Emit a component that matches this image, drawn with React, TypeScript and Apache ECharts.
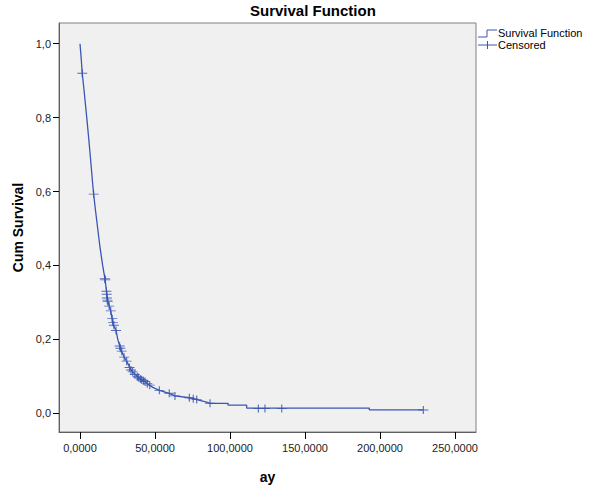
import React, { useEffect, useRef } from "react";
import * as echarts from "echarts";

const titleText = "Survival Function";
const xAxisName = "ay";
const yAxisName = "Cum Survival";
const legendNames = ["Survival Function", "Censored"];
const xTicks = [0, 50, 100, 150, 200, 250];
const yTicks = [0, 0.2, 0.4, 0.6, 0.8, 1.0];

// Kaplan-Meier curve (time, cumulative survival)
const survivalCurve: [number, number][] = [
  [0, 1.0], [0.8, 0.96], [1.5, 0.92], [2.8, 0.87], [4.5, 0.8], [5.9, 0.74],
  [7.2, 0.68], [8.9, 0.6], [10.3, 0.55], [11.8, 0.5], [13.3, 0.45], [15.1, 0.4],
  [16.7, 0.362], [17.8, 0.326], [18.5, 0.304], [20.5, 0.277], [22.0, 0.24],
  [24.0, 0.224], [25.2, 0.2], [26.7, 0.179], [27.8, 0.168], [29.4, 0.152],
  [31.1, 0.141], [34.0, 0.117], [35.1, 0.112], [38.9, 0.097], [41.1, 0.091],
  [43.3, 0.086], [44.9, 0.08], [48.5, 0.07], [52.9, 0.062], [59.5, 0.054],
  [63.3, 0.047], [72.9, 0.042], [77.8, 0.037], [84.5, 0.03], [86.7, 0.027],
  [98.7, 0.027], [98.7, 0.022], [111.1, 0.022], [111.1, 0.014], [192.9, 0.014],
  [192.9, 0.009], [228.9, 0.009],
];

// Censored observations
const censored: [number, number][] = [
  [1.5, 0.92], [9.1, 0.593], [16.5, 0.364], [16.9, 0.361], [17.6, 0.33],
  [17.8, 0.322], [17.9, 0.312], [18.2, 0.306], [18.5, 0.302], [19.4, 0.29],
  [20.5, 0.277], [21.5, 0.256], [22.0, 0.246], [22.6, 0.238], [24.0, 0.224],
  [26.4, 0.182], [26.9, 0.176], [27.8, 0.168], [29.4, 0.152], [31.1, 0.141],
  [33.0, 0.124], [34.0, 0.117], [35.1, 0.112], [36.5, 0.105], [38.2, 0.099],
  [38.9, 0.097], [40.2, 0.093], [41.1, 0.091], [42.3, 0.088], [43.3, 0.086],
  [44.9, 0.08], [46.5, 0.076], [52.9, 0.062], [59.5, 0.054], [63.3, 0.047],
  [72.9, 0.042], [75.5, 0.039], [77.8, 0.037], [86.7, 0.027], [118.9, 0.013],
  [123.3, 0.013], [134.5, 0.013], [228.9, 0.009],
];

const BLUE = "#3a55b4";
const FONT = "'Liberation Sans', Arial, sans-serif";

export default function App() {
  const ref = useRef<HTMLDivElement>(null);
  useEffect(() => {
    document.body.style.margin = "0";
    if (!ref.current) return;
    const chart = echarts.init(ref.current, undefined, { renderer: "svg" });
    const option: any = {
      animation: false,
      backgroundColor: "#ffffff",
      textStyle: { fontFamily: FONT },
      title: {
        text: titleText,
        left: 250,
        top: 3,
        padding: 0,
        textStyle: { fontFamily: FONT, fontSize: 15, fontWeight: "bold", color: "#000" },
      },
      grid: {
        left: 59,
        top: 23,
        right: 120,
        bottom: 51,
        show: true,
        backgroundColor: "#f0f0f0",
        borderColor: "#808080",
        borderWidth: 1,
      },
      xAxis: {
        type: "value",
        min: -14,
        max: 264,
        name: xAxisName,
        nameLocation: "middle",
        nameGap: 38,
        nameTextStyle: { fontFamily: FONT, fontSize: 14, fontWeight: "bold", color: "#000" },
        axisLine: { show: true, onZero: false, lineStyle: { color: "#606060" } },
        axisTick: { show: true, length: 7, customValues: xTicks, lineStyle: { color: "#000" } },
        axisLabel: {
          customValues: xTicks,
          margin: 10,
          fontSize: 11,
          color: "#222",
          formatter: (v: number) => v.toFixed(4).replace(".", ","),
        },
        splitLine: { show: false },
      },
      yAxis: {
        type: "value",
        min: -0.0507,
        max: 1.056,
        name: yAxisName,
        nameLocation: "middle",
        nameGap: 33,
        nameTextStyle: { fontFamily: FONT, fontSize: 14, fontWeight: "bold", color: "#000" },
        axisLine: { show: true, onZero: false, lineStyle: { color: "#606060" } },
        axisTick: { show: true, length: 6, customValues: yTicks, lineStyle: { color: "#000" } },
        axisLabel: {
          customValues: yTicks,
          margin: 8,
          fontSize: 11,
          color: "#222",
          formatter: (v: number) => v.toFixed(1).replace(".", ","),
        },
        splitLine: { show: false },
      },
      series: [
        {
          name: legendNames[0],
          type: "line",
          data: survivalCurve,
          symbol: "none",
          lineStyle: { color: BLUE, width: 1.3 },
          z: 2,
        },
        {
          name: legendNames[1],
          type: "scatter",
          data: censored,
          symbol: "path://M0,4 L10,4 M5,0 L5,8",
          symbolSize: [10, 8],
          itemStyle: { color: "rgba(0,0,0,0)", borderColor: BLUE, borderWidth: 1, opacity: 0.85 },
          z: 3,
        },
      ],
      graphic: [
        {
          type: "polyline",
          shape: { points: [[478, 37], [487, 37], [487, 30], [497, 30]] },
          style: { stroke: BLUE, fill: "none", lineWidth: 1 },
        },
        {
          type: "text",
          left: 498,
          top: 27,
          style: { text: legendNames[0], font: `11px ${FONT}`, fill: "#000" },
        },
        {
          type: "line",
          shape: { x1: 478, y1: 45, x2: 497, y2: 45 },
          style: { stroke: BLUE, lineWidth: 1 },
        },
        {
          type: "line",
          shape: { x1: 487.5, y1: 41, x2: 487.5, y2: 49 },
          style: { stroke: BLUE, lineWidth: 1 },
        },
        {
          type: "text",
          left: 498,
          top: 39,
          style: { text: legendNames[1], font: `11px ${FONT}`, fill: "#000" },
        },
      ],
    };
    chart.setOption(option);
    return () => chart.dispose();
  }, []);
  return <div ref={ref} style={{ width: 596, height: 489 }} />;
}
